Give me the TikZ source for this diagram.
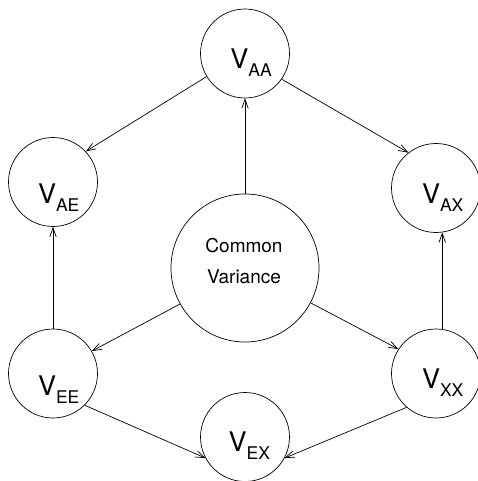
\documentclass[tikz,border=0pt]{standalone}
\usepackage{fontspec}
\setmainfont{TeX Gyre Heros}
\usetikzlibrary{arrows.meta}
\newcommand{\vlab}[1]{V\raisebox{-8pt}{\fontsize{17.5}{17.5}\selectfont #1}}

\begin{document}
\begin{tikzpicture}[x=1pt,y=-1pt,line width=0.7pt]
        \tikzstyle{var}=[circle,draw=black,line width=0.7pt,minimum size=89pt,inner sep=0pt]
        \tikzstyle{common}=[var,minimum size=148pt]
        \tikzstyle{vname}=[anchor=base west,inner sep=0pt,font=\fontsize{27}{27}\selectfont]
        \tikzstyle{edge}=[draw,-{Straight Barb[length=9pt,width=6.5pt]}]
        \useasboundingbox (0,0) rectangle (478,481);
       \begin{scope}
         % variance circles
         \node [var] (vaa) at (245,53.5) {};
         \node [var] (vae) at (53,182) {};
         \node [var] (vax) at (436,188) {};
         \node [common] (cv) at (245,268) {};
         \node [var] (vee) at (53,373.5) {};
         \node [var] (vxx) at (436,373.5) {};
         \node [var] (vex) at (245,437) {};
         % names
         \node [vname] (taa) at (230,68.3) {\vlab{AA}};
         \node [vname] (tae) at (37.7,203.3) {\vlab{AE}};
         \node [vname] (tax) at (421.7,203.3) {\vlab{AX}};
         \node [vname] (tee) at (37.7,395) {\vlab{EE}};
         \node [vname] (txx) at (421.7,388.3) {\vlab{XX}};
         \node [vname] (tex) at (228.3,451.7) {\vlab{EX}};
         \node [anchor=base,inner sep=0pt,align=center,font=\fontsize{19}{30.6}\selectfont] (cvtext) at (244,283.3) {Common\\Variance};
         % arrows
         \draw[edge] (cv.90) -- (vaa.270);
         \draw[edge] (vaa.211) -- (vae.43);
         \draw[edge] (vaa.325) -- (vax.128);
         \draw[edge] (cv.209) -- (vee.30);
         \draw[edge] (cv.332) -- (vxx.147);
         \draw[edge] (vee.90) -- (vae.270);
         \draw[edge] (vxx.82) -- (vax.278);
         \draw[edge] (vee.315) -- (vex.208);
         \draw[edge] (vxx.229) -- (vex.332);
        \end{scope}
\end{tikzpicture}
\end{document}
